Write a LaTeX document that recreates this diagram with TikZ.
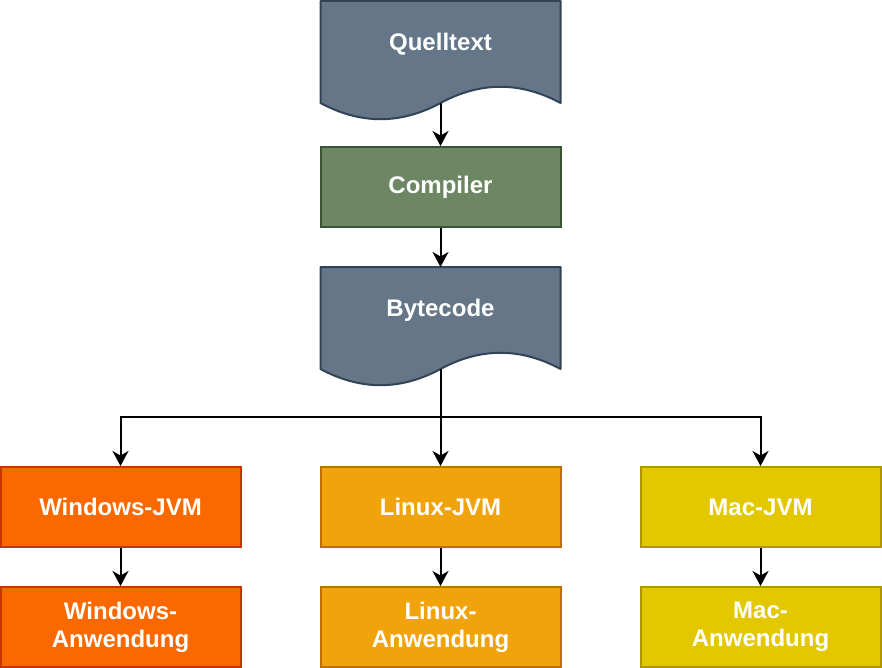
\documentclass[tikz,border=0pt]{standalone}
\usepackage{fontspec}
\setmainfont{Liberation Sans}
\usetikzlibrary{arrows.meta}
\definecolor{docfill}{HTML}{647687}
\definecolor{docline}{HTML}{314354}
\definecolor{compfill}{HTML}{6D8764}
\definecolor{compline}{HTML}{3A5431}
\definecolor{winfill}{HTML}{FA6800}
\definecolor{winline}{HTML}{C73500}
\definecolor{linfill}{HTML}{F0A30A}
\definecolor{linline}{HTML}{BD7000}
\definecolor{macfill}{HTML}{E3C800}
\definecolor{macline}{HTML}{B09500}
\newcommand{\mydocshape}[2]{%
  \path[docstyle] (#1,#2) -- ++(240,0) -- ++(0,102)
    .. controls ++(-40,-21.6) and ++(40,-21.6) .. ++(-120,0)
    .. controls ++(-40,21.6) and ++(40,21.6) .. ++(-120,0) -- cycle;}
\begin{document}
\begin{tikzpicture}[x=1pt,y=-1pt,
  docstyle/.style={fill=docfill,draw=docline,line width=2pt,line join=round},
  lbl/.style={text=white,font=\fontsize{24}{28}\selectfont\bfseries,align=center},
  box/.style={lbl,rectangle,line width=2pt,minimum width=240pt,minimum height=80pt,inner sep=0pt},
  winbox/.style={box,fill=winfill,draw=winline},
  linbox/.style={box,fill=linfill,draw=linline},
  macbox/.style={box,fill=macfill,draw=macline},
  arr/.style={line width=2pt,-{Stealth[length=15pt,width=16pt,inset=4.5pt]}}]
\useasboundingbox (0,0) rectangle (882,668);
% documents
\mydocshape{320.5}{1}
\node[lbl] (q) at (440.5,44) {Quelltext};
\coordinate (qout) at (440.5,103);
\node[box,fill=compfill,draw=compline] (c) at (440.5,187) {Compiler};
\mydocshape{320.5}{267}
\coordinate (bin) at (440.5,267);
\node[lbl] (b) at (440.5,310) {Bytecode};
\coordinate (bout) at (440.5,369);
\coordinate (split) at (440.5,417);
% JVMs
\node[winbox] (wj) at (120.5,507) {Windows-JVM};
\node[linbox] (lj) at (440.5,507) {Linux-JVM};
\node[macbox] (mj) at (760.5,507) {Mac-JVM};
% applications
\node[winbox] (wa) at (120.5,627) {Windows-\\Anwendung};
\node[linbox] (la) at (440.5,627) {Linux-\\Anwendung};
\node[macbox] (ma) at (760.5,627) {Mac-\\Anwendung};
% connectors
\draw[arr] (qout) -- (c);
\draw[arr] (c) -- (bin);
\draw[arr] (bout) -- (lj);
\draw[arr] (split) -| (wj);
\draw[arr] (split) -| (mj);
\draw[arr] (wj) -- (wa);
\draw[arr] (lj) -- (la);
\draw[arr] (mj) -- (ma);
\end{tikzpicture}
\end{document}
